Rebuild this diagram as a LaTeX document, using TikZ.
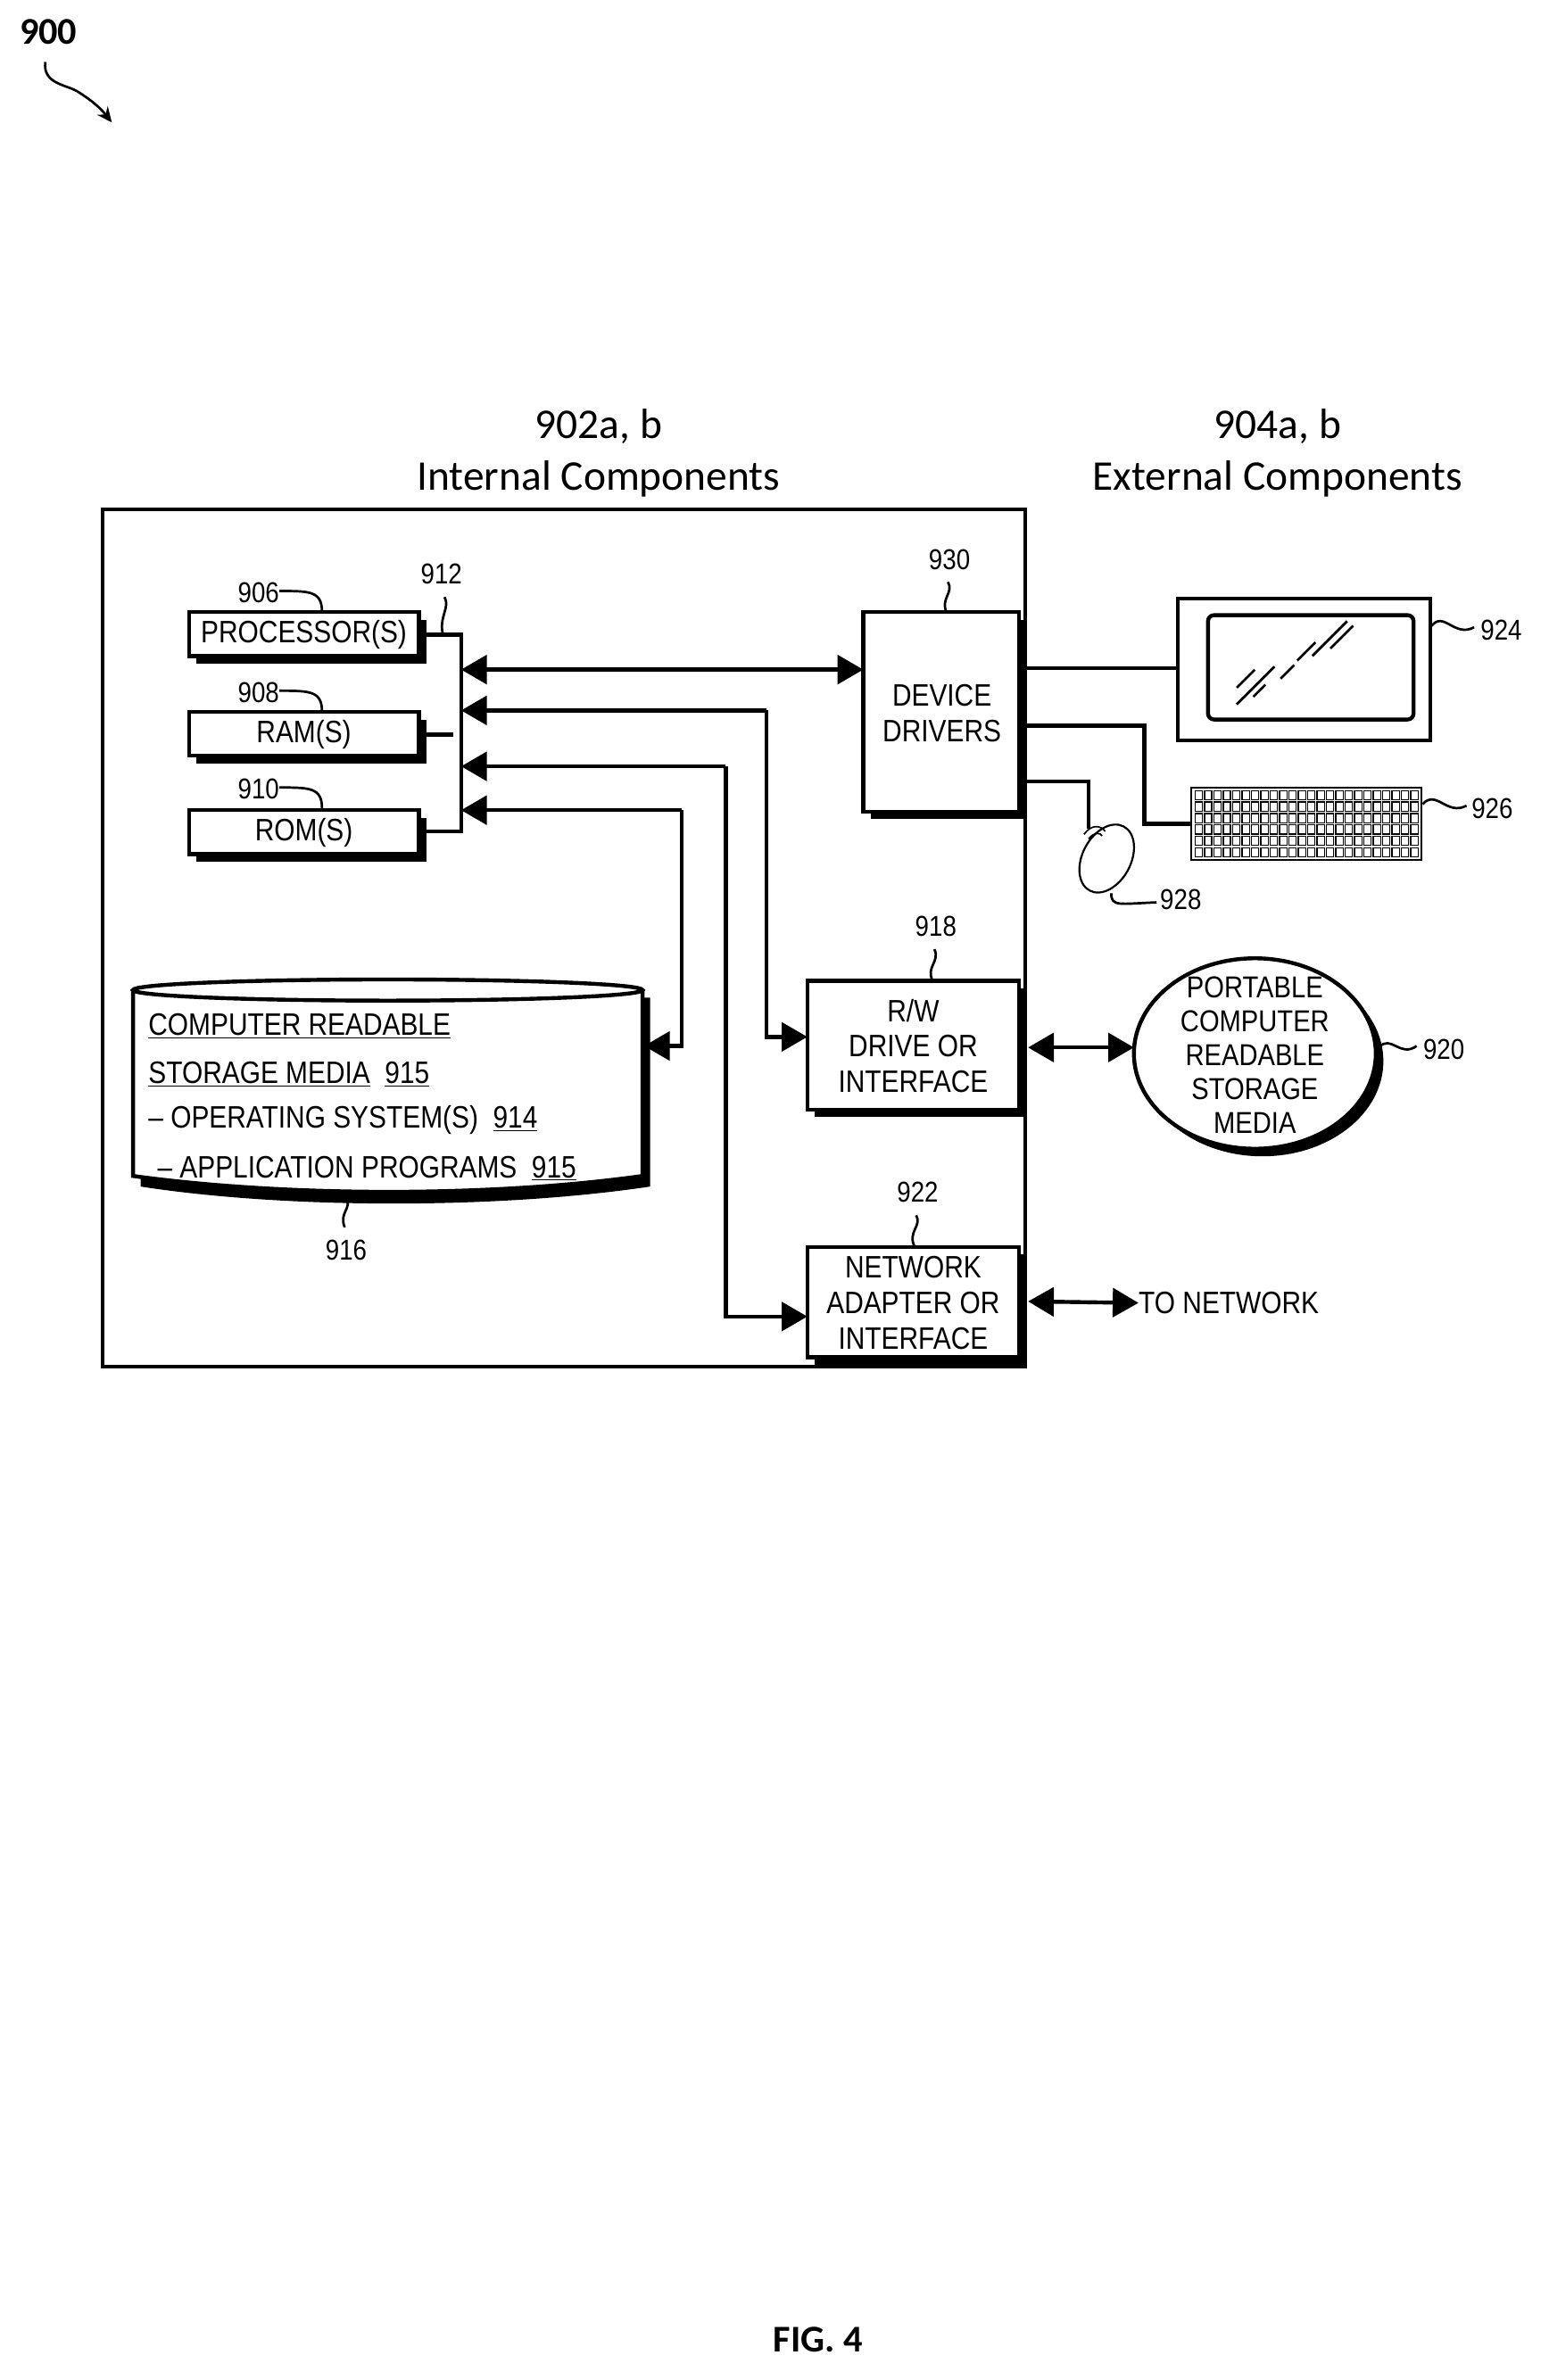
\documentclass[tikz,border=0pt]{standalone}
\usepackage{fontspec}
\setmainfont{Liberation Sans}[FakeStretch=0.86]
\newfontfamily\calfont{Carlito}
\usetikzlibrary{arrows.meta,shapes.geometric}
\begin{document}
\begin{tikzpicture}[x=1pt,y=-1pt,
  lw/.style={line width=2.6pt},
  thin lead/.style={line width=1.6pt},
  tip/.style={-{Triangle[length=17pt,width=19pt]}},
  dtip/.style={{Triangle[length=17pt,width=19pt]}-{Triangle[length=17pt,width=19pt]}},
  lbl/.style={font=\fontsize{19}{22}\selectfont,inner sep=0pt},
  txt/.style={font=\fontsize{20.5}{23.5}\selectfont,inner sep=0pt,align=center},
  head/.style={font=\calfont\fontsize{28}{32}\selectfont,inner sep=0pt},
  box/.style={draw,lw,fill=white,inner sep=0pt},
  shadow/.style={fill=black}]
\useasboundingbox (0,0) rectangle (1024,1574.6);
% 900
\node[head,font=\calfont\bfseries\fontsize{25}{30}\selectfont] (n900) at (32,21) {900};
\coordinate (a900) at (74,81);
\draw[thin lead,-{Stealth[length=10pt,width=9pt]}] (30,41) .. controls (28,56) and (45,56) .. (52,61) .. controls (60,66) and (66,71) .. (a900);
% headings
\node[head] (h1) at (396,282) {902a, b};
\node[head] (h2) at (396,317) {Internal Components};
\node[head] (h3) at (845,282) {904a, b};
\node[head] (h4) at (845,317) {External Components};
% outer box
\draw[lw] (68,337) rectangle (678,904);
% processor, ram, rom
\foreach \n/\t/\y in {proc/PROCESSOR(S)/405,ram/RAM(S)/471,rom/ROM(S)/536}{
  \fill[shadow] (130,\y+5) rectangle (282,\y+34);
  \draw[box] (125,\y) rectangle (277,\y+29);
  \node[txt] (\n) at (201,\y+15) {\t};
}
\node[lbl] (n906) at (171,392) {906};
\node[lbl] (n908) at (171,458) {908};
\node[lbl] (n910) at (171,522) {910};
\foreach \n/\y in {n906/391,n908/457,n910/521}
  \draw[thin lead] (\n.east |- 0,\y) .. controls (205,\y) and (213,\y) .. (213,\y+14);
% bus
\coordinate (b1) at (305,420); \coordinate (b4) at (305,550);
\draw[lw] (282,420) -- (b1) -- (b4) -- (282,550);
\draw[lw] (282,486) -- (300,486);
\node[lbl] (n912) at (292,380) {912};
\draw[thin lead] (294,395) .. controls (298,402) and (290,408) .. (293,420);
% device drivers
\fill[shadow] (576,410) rectangle (679,542);
\draw[box] (571,405) rectangle (674,537);
\node[txt] (dd) at (623,472) {DEVICE\\DRIVERS};
\node[lbl] (n930) at (628,370) {930};
\draw[thin lead] (627,385) .. controls (631,392) and (622,396) .. (626,405);
% R/W
\fill[shadow] (539,654) rectangle (679,739);
\draw[box] (534,649) rectangle (674,734);
\node[txt] (rw) at (604,692) {R/W\\DRIVE OR\\INTERFACE};
\node[lbl] (n918) at (619,613) {918};
\draw[thin lead] (618,628) .. controls (622,636) and (612,640) .. (617,649);
% network
\fill[shadow] (539,830) rectangle (679,903);
\draw[box] (534,825) rectangle (674,898);
\node[txt] (net) at (604,862) {NETWORK\\ADAPTER OR\\INTERFACE};
\node[lbl] (n922) at (607,789) {922};
\draw[thin lead] (606,804) .. controls (610,811) and (600,815) .. (605,825);
% cylinder
\fill[shadow] (93,660) -- (430,660) -- (430,785) .. controls (330,800) and (190,800) .. (93,785) -- cycle;
\draw[lw,fill=white] (88,655) -- (88,778) .. controls (190,792) and (325,792) .. (425,778) -- (425,655);
\draw[lw,fill=white] (256.5,655) ellipse (168.5 and 7);
\node[txt,anchor=west] (crs1) at (98,679) {\underline{COMPUTER READABLE}};
\node[txt,anchor=west] (crs2) at (98,711) {\underline{STORAGE MEDIA}\ \ \underline{915}};
\node[txt,anchor=west] (crs3) at (98,741) {– OPERATING SYSTEM(S)\ \ \underline{914}};
\node[txt,anchor=west] (crs4) at (104,773) {– APPLICATION PROGRAMS\ \ \underline{915}};
\node[lbl] (n916) at (229,827) {916};
\draw[thin lead] (228,812) .. controls (224,802) and (233,800) .. (229,792);
% bus arrows
\coordinate (dl) at (571,443);
\draw[lw,dtip] (305,443) -- (dl);
\draw[lw,tip] (507,470) -| (507,686) -- (534,686);
\draw[lw,tip] (480,507) -| (480,871) -- (534,871);
\draw[lw,tip] (451,536) -| (451,692) -- (426,692);
\draw[lw,tip] (507,470) -- (305,470);
\draw[lw,tip] (480,507) -- (305,507);
\draw[lw,tip] (451,536) -- (305,536);
% monitor
\draw[lw] (678,442) -- (779,442);
\draw[lw] (779,396) rectangle (946,490);
\draw[lw,rounded corners=4pt] (799,407) rectangle (935,476);
\draw[line width=1.6pt] (818,466) -- (843,441) (818,455) -- (830,443) (829,461) -- (837,453)
  (847,449) -- (856,440) (858,437) -- (870,425) (868,434) -- (891,411) (880,429) -- (895,414);
\node[lbl] (n924) at (993,417) {924};
\draw[thin lead] (947,414) .. controls (955,404) and (962,422) .. (975,415);
% keyboard
\draw[lw] (678,480) -- (757,480) -- (757,545) -- (788,545);
\draw[line width=1pt] (788,521) rectangle (940,569);
\foreach \r in {0,...,5}{
  \foreach \c in {0,...,23}{
    \pgfmathsetmacro\xx{790.5+\c*6.2}
    \pgfmathsetmacro\yy{523+\r*7.6}
    \draw[line width=0.7pt] (\xx,\yy) rectangle ++(4.8,6);
  }
}
\node[lbl] (n926) at (987,535) {926};
\draw[thin lead] (941,532) .. controls (950,522) and (957,540) .. (970,533);
% mouse
\draw[lw] (678,517) -- (720,517) -- (720,548);
\draw[line width=1.3pt,fill=white] (732,568) ellipse [x radius=16, y radius=24, rotate=-28];
\draw[line width=1pt] (717,552) .. controls (722,545) and (728,546) .. (731,550)
  (720,555) .. controls (724,550) and (728,551) .. (729,553);
\node[lbl] (n928) at (781,595) {928};
\draw[thin lead] (735,591) .. controls (735,600) and (740,598) .. (765,597);
% portable media
\fill[shadow] (835,702) ellipse (80 and 63);
\draw[lw,fill=white] (830,697) ellipse (80 and 63);
\node[txt,font=\fontsize{20}{22.5}\selectfont] (pcr) at (830,698) {PORTABLE\\COMPUTER\\READABLE\\STORAGE\\MEDIA};
\draw[lw,dtip] (680,693) -- (750,693);
\node[lbl] (n920) at (955,694) {920};
\draw[thin lead] (912,693) .. controls (920,684) and (926,700) .. (937,692);
% network
\node[txt,anchor=west] (tonet) at (753,862) {TO NETWORK};
\draw[lw,dtip] (680,861) -- (tonet.west);
% fig
\node[head,font=\calfont\bfseries\fontsize{25}{30}\selectfont] (fig) at (541,1548) {FIG. 4};
\end{tikzpicture}
\end{document}
